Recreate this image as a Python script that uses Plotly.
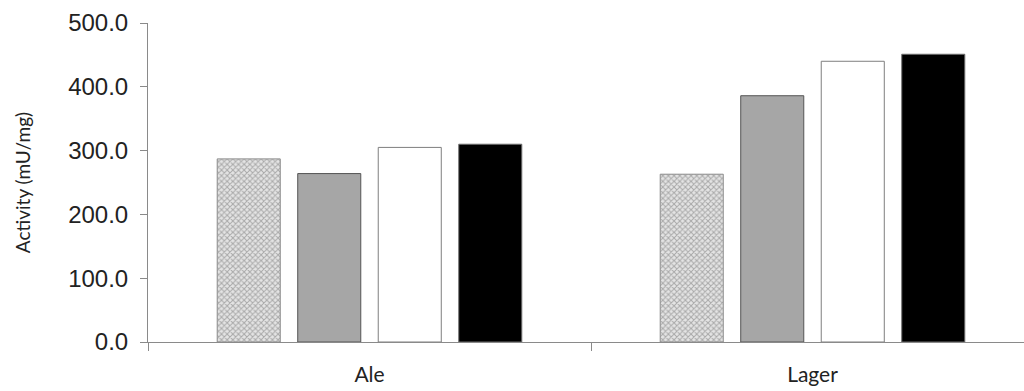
import plotly.graph_objects as go

# Enzyme activity by beer type, four treatments per beer
categories = ["Ale", "Lager"]
series_1 = [287, 263]
series_2 = [264, 386]
series_3 = [305, 440]
series_4 = [310, 451]
y_ticks = [0, 100, 200, 300, 400, 500]

styles = [
    dict(color="#d0d0d0", line=dict(color="#8c8c8c", width=1),
         pattern=dict(shape="x", size=4, fgcolor="#6e6e6e", bgcolor="#e4e4e4", solidity=0.45)),
    dict(color="#a6a6a6", line=dict(color="#555555", width=1)),
    dict(color="#ffffff", line=dict(color="#7f7f7f", width=1)),
    dict(color="#000000", line=dict(color="#6e6e6e", width=1)),
]

fig = go.Figure()
for name, vals, mk in zip(["Series 1", "Series 2", "Series 3", "Series 4"],
                          [series_1, series_2, series_3, series_4], styles):
    fig.add_trace(go.Bar(x=categories, y=vals, name=name, marker=mk, showlegend=False))

axis_line = "#8a8a8a"
fig.update_layout(
    width=1024, height=391,
    margin=dict(l=148, r=0, t=23, b=49),
    paper_bgcolor="white", plot_bgcolor="white",
    barmode="group", bargap=0.273, bargroupgap=0.217,
    xaxis=dict(
        range=[-0.5, 1.4774], showline=True, linecolor=axis_line, linewidth=1,
        ticks="outside", tickson="boundaries", ticklen=8, tickcolor=axis_line,
        ticklabelstandoff=14,
        showgrid=False, tickfont=dict(family="Lato", size=21, color="#222"),
    ),
    yaxis=dict(
        range=[0, 500], tickvals=y_ticks, tickformat=".1f",
        showline=True, linecolor=axis_line, linewidth=1,
        ticks="outside", ticklen=7, tickcolor=axis_line, showgrid=False, zeroline=False,
        ticklabelstandoff=7,
        tickfont=dict(family="Liberation Sans", size=24, color="#222"),
        title=dict(text="Activity (mU/mg)", standoff=32,
                   font=dict(family="Lato", size=19, color="#222")),
    ),
)

fig.write_html("out.html")
